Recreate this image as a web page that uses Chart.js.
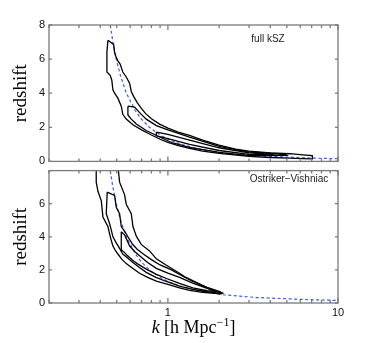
<!DOCTYPE html>
<html>
<head>
<meta charset="utf-8">
<script src="https://cdn.jsdelivr.net/npm/chart.js@4.4.0/dist/chart.umd.min.js"></script>
<style>
  body { margin: 0; background: #fff; }
  #wrap { position: relative; width: 374px; height: 343px; }
  canvas { position: absolute; left: 0; }
  #topChart { top: 0; }
  #botChart { top: 160px; }
</style>
</head>
<body>
<div id="wrap">
  <canvas id="topChart" width="374" height="172"></canvas>
  <canvas id="botChart" width="374" height="183"></canvas>
</div>
<script>
// tick positions
const xTicks = [0.2, 0.3, 0.4, 0.5, 0.6, 0.7, 0.8, 0.9, 1, 2, 3, 4, 5, 6, 7, 8, 9, 10];
const xMajor = [1, 10];
const yTicks = [0, 2, 4, 6, 8];

// blue dashed line, [k, z]
const dashK = [0.452, 0.458, 0.475, 0.497, 0.527, 0.570, 0.641, 0.696, 0.778, 0.916, 1.028, 1.20, 1.49, 2.10, 3.34, 4.87, 6.8, 10.5];
const dashZ = [8.3, 8.0, 7.0, 6.0, 5.0, 4.0, 3.0, 2.5, 2.0, 1.5, 1.25, 1.0, 0.75, 0.5, 0.33, 0.26, 0.2, 0.15];

// full kSZ contours, [k, z]
const fullOuter = [[0.444,7.1],[0.48,6.86],[0.486,6.38],[0.497,6.1],[0.508,5.9],[0.524,5.71],[0.543,5.24],[0.569,4.95],[0.596,4.57],[0.609,4.1],[0.63,3.8],[0.66,3.45],[0.70,3.1],[0.74,2.8],[0.80,2.5],[0.894,2.19],[1.0,1.95],[1.15,1.72],[1.34,1.52],[1.6,1.25],[2.0,0.95],[2.5,0.72],[3.0,0.6],[4.0,0.5],[5.2,0.45],[6.2,0.38],[7.05,0.34],[7.1,0.25],[7.05,0.15],[6.2,0.16],[5.2,0.19],[4.0,0.23],[3.0,0.29],[2.0,0.47],[1.6,0.6],[1.34,0.76],[1.15,0.93],[1.0,1.12],[0.9,1.3],[0.80,1.55],[0.70,1.85],[0.623,2.15],[0.569,2.48],[0.543,2.76],[0.532,3.24],[0.508,3.71],[0.486,4.0],[0.475,4.2],[0.468,4.76],[0.458,5.05],[0.438,5.24],[0.438,6.4],[0.444,7.1]];
const fullInner = [[0.582,3.24],[0.637,3.18],[0.682,2.86],[0.746,2.48],[0.855,2.1],[1.0,1.85],[1.34,1.42],[2.0,0.88],[3.0,0.55],[4.9,0.42],[5.0,0.36],[3.0,0.34],[2.0,0.53],[1.34,0.82],[1.07,1.08],[0.894,1.43],[0.746,1.81],[0.652,2.19],[0.609,2.48],[0.582,2.72],[0.582,3.24]];
const fullCore = [[0.855,1.72],[1.0,1.58],[1.34,1.25],[2.0,0.8],[3.0,0.5],[4.0,0.42],[4.2,0.37],[3.0,0.41],[2.0,0.64],[1.34,1.0],[1.0,1.34],[0.855,1.5],[0.855,1.72]];

// Ostriker-Vishniac contours, [k, z]
const ovOuter = [[0.379,8.3],[0.379,7.3],[0.388,6.75],[0.406,6.17],[0.415,5.2],[0.444,4.62],[0.46,3.94],[0.475,3.44],[0.49,3.2],[0.508,2.96],[0.535,2.65],[0.569,2.38],[0.62,2.1],[0.682,1.8],[0.76,1.55],[0.855,1.32],[1.0,1.12],[1.17,0.92],[1.34,0.76],[1.6,0.64],[2.05,0.55],[2.1,0.6],[2.0,0.66],[1.75,0.85],[1.5,1.2],[1.25,1.6],[1.17,1.8],[0.98,2.28],[0.855,2.67],[0.78,3.15],[0.697,3.54],[0.652,4.04],[0.623,4.62],[0.609,5.4],[0.569,5.97],[0.556,6.55],[0.52,7.3],[0.508,8.3]];
const ovMid = [[0.44,6.7],[0.486,6.5],[0.497,5.78],[0.52,5.4],[0.532,4.62],[0.56,4.3],[0.59,3.9],[0.62,3.55],[0.66,3.25],[0.72,2.95],[0.80,2.62],[0.9,2.3],[1.05,2.0],[1.17,1.72],[1.4,1.3],[1.7,0.95],[2.0,0.7],[2.05,0.64],[2.0,0.6],[1.7,0.68],[1.4,0.82],[1.17,1.02],[0.98,1.3],[0.85,1.55],[0.746,1.85],[0.68,2.15],[0.623,2.45],[0.575,2.75],[0.543,2.96],[0.52,3.3],[0.497,3.63],[0.475,4.0],[0.465,4.4],[0.454,4.8],[0.434,5.4],[0.44,6.7]];
const ovInner = [[0.532,4.31],[0.556,4.12],[0.575,3.8],[0.596,3.44],[0.64,3.1],[0.682,2.86],[0.76,2.45],[0.855,2.09],[1.0,1.8],[1.17,1.55],[1.4,1.2],[1.7,0.88],[1.95,0.7],[1.7,0.74],[1.4,0.92],[1.17,1.18],[0.98,1.48],[0.85,1.75],[0.746,2.05],[0.66,2.38],[0.623,2.57],[0.575,2.88],[0.555,3.06],[0.535,3.2],[0.532,3.35],[0.532,4.31]];

const pts = (arr) => arr.map(([x, y]) => ({ x, y }));
const dashPts = dashK.map((k, i) => ({ x: k, y: dashZ[i] }));

const contour = (arr) => ({
    data: pts(arr),
    showLine: true,
    borderColor: '#000',
    borderWidth: 1.3,
    pointRadius: 0,
    fill: false,
});
const dashed = () => ({
    data: dashPts,
    showLine: true,
    borderColor: '#3a5cf2',
    borderWidth: 1.2,
    borderDash: [3, 2.5],
    pointRadius: 0,
    fill: false,
});

// frame with inward ticks, MATLAB style
const frameTicks = {
    id: 'frameTicks',
    afterDatasetsDraw(chart) {
        const { ctx, chartArea: a, scales: { x, y } } = chart;
        ctx.save();
        ctx.strokeStyle = '#7a7a7a';
        ctx.lineWidth = 1.3;
        ctx.strokeRect(a.left, a.top, a.right - a.left, a.bottom - a.top);
        ctx.beginPath();
        xTicks.forEach(v => {
            const px = x.getPixelForValue(v);
            const len = xMajor.includes(v) ? 5 : 3;
            ctx.moveTo(px, a.bottom); ctx.lineTo(px, a.bottom - len);
            ctx.moveTo(px, a.top); ctx.lineTo(px, a.top + len);
        });
        yTicks.forEach(v => {
            const py = y.getPixelForValue(v);
            ctx.moveTo(a.left, py); ctx.lineTo(a.left + 3, py);
            ctx.moveTo(a.right, py); ctx.lineTo(a.right - 3, py);
        });
        ctx.stroke();
        ctx.restore();
    }
};

const panelLabel = {
    id: 'panelLabel',
    afterDraw(chart, args, opts) {
        const ctx = chart.ctx;
        ctx.save();
        ctx.font = '10px "Liberation Sans", Arial, sans-serif';
        ctx.fillStyle = '#222';
        ctx.textAlign = 'center';
        ctx.textBaseline = 'middle';
        ctx.fillText(opts.text, opts.x, opts.y);
        ctx.restore();
    }
};

// x title with italic k and superscript
const xTitle = {
    id: 'xTitle',
    afterDraw(chart) {
        const { ctx, chartArea: a } = chart;
        const big = '18px "Liberation Serif", "Times New Roman", serif';
        const ital = 'italic 18px "Liberation Serif", "Times New Roman", serif';
        const small = '12px "Liberation Serif", "Times New Roman", serif';
        const parts = [
            ['k', ital, 0],
            [' [h Mpc', big, 0],
            ['\u22121', small, -7],
            [']', big, 0],
        ];
        ctx.save();
        let w = 0;
        parts.forEach(([t, f]) => { ctx.font = f; w += ctx.measureText(t).width; });
        let x = (a.left + a.right) / 2 - w / 2;
        const base = 173;
        ctx.fillStyle = '#000';
        ctx.textBaseline = 'alphabetic';
        parts.forEach(([t, f, dy]) => {
            ctx.font = f;
            ctx.fillText(t, x, base + dy);
            x += ctx.measureText(t).width;
        });
        ctx.restore();
    }
};

const yScale = (hideTop) => ({
    type: 'linear',
    min: 0,
    max: 8,
    afterFit: (s) => { s.width = 49; },
    grid: { display: false, drawTicks: false },
    border: { display: false },
    ticks: {
        stepSize: 2,
        padding: 4,
        color: '#111',
        font: { family: '"Liberation Sans", Arial, sans-serif', size: 11 },
        callback: (v) => (hideTop && v === 8 ? '' : v),
    },
    title: {
        display: true,
        text: 'redshift',
        color: '#000',
        font: { family: '"Liberation Serif", "Times New Roman", serif', size: 19 },
        padding: { top: 10, bottom: 0 },
    },
});

const baseOptions = {
    responsive: false,
    animation: false,
    devicePixelRatio: 1,
    plugins: { legend: { display: false }, tooltip: { enabled: false } },
};

new Chart('topChart', {
    type: 'scatter',
    data: { datasets: [contour(fullOuter), contour(fullInner), contour(fullCore), dashed()] },
    options: {
        ...baseOptions,
        layout: { padding: { left: 0, top: 25, right: 36, bottom: 7 } },
        plugins: { ...baseOptions.plugins, panelLabel: { text: 'full kSZ', x: 268, y: 39 } },
        scales: {
            x: { type: 'logarithmic', min: 0.2, max: 10, display: false },
            y: yScale(false),
        },
    },
    plugins: [frameTicks, panelLabel],
});

new Chart('botChart', {
    type: 'scatter',
    data: { datasets: [contour(ovOuter), contour(ovMid), contour(ovInner), dashed()] },
    options: {
        ...baseOptions,
        layout: { padding: { left: 0, top: 5, right: 36, bottom: 0 } },
        plugins: { ...baseOptions.plugins, panelLabel: { text: 'Ostriker\u2212Vishniac', x: 289, y: 19 } },
        scales: {
            x: {
                type: 'logarithmic',
                min: 0.2,
                max: 10,
                afterFit: (s) => { s.height = 40; },
                grid: { display: false, drawTicks: false },
                border: { display: false },
                ticks: {
                    autoSkip: false,
                    maxRotation: 0,
                    padding: 3,
                    color: '#111',
                    font: { family: '"Liberation Sans", Arial, sans-serif', size: 11 },
                    callback: (v) => (xMajor.includes(v) ? String(v) : ''),
                },
            },
            y: yScale(true),
        },
    },
    plugins: [frameTicks, panelLabel, xTitle],
});
</script>
</body>
</html>
